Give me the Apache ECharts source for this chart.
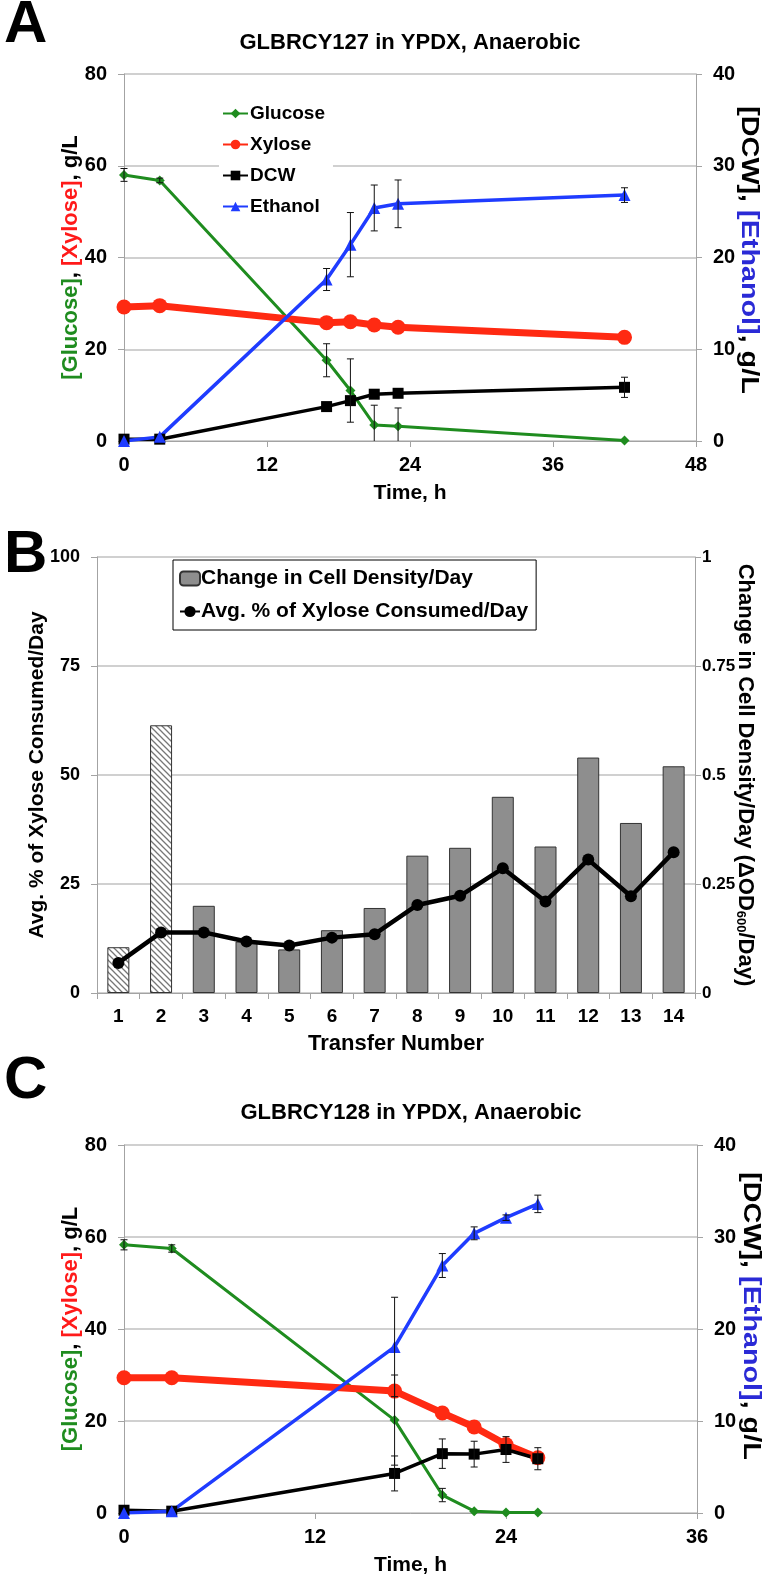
<!DOCTYPE html>
<html><head><meta charset="utf-8">
<script src="https://cdn.jsdelivr.net/npm/echarts@6/dist/echarts.min.js"></script>
<style>html,body{margin:0;padding:0;background:#fff}#c{width:772px;height:1581px}</style>
</head><body><div id="c"></div>
<script>
// ---------- Panel A data (GLBRCY127) ----------
const timeA = [0, 3, 17, 19, 21, 23, 42];
const glucoseA = [58.0, 56.8, 17.6, 11.0, 3.5, 3.2, 0.1];
const glucoseErrA = [1.4, 0.5, 3.6, 6.9, 4.3, 4.0, 0];
const xyloseA = [29.2, 29.5, 25.8, 26.0, 25.3, 24.8, 22.6];
const dcwA = [0.2, 0.2, 3.75, 4.4, 5.1, 5.2, 5.85];
const dcwErrA = [0, 0, 0, 0, 0, 0, 1.1];
const ethanolA = [0, 0.45, 17.6, 21.4, 25.4, 25.85, 26.8];
const ethanolErrA = [0, 0, 1.2, 3.5, 2.5, 2.6, 0.8];
const timeTicksA = [0, 12, 24, 36, 48];

// ---------- Panel B data ----------
const transfers = ['1','2','3','4','5','6','7','8','9','10','11','12','13','14'];
const cellDensity = [0.105, 0.614, 0.20, 0.118, 0.10, 0.144, 0.195, 0.315, 0.333, 0.45, 0.336, 0.54, 0.39, 0.52];
const hatchedTransfers = ['1', '2'];
const xyloseConsumed = [6.9, 13.9, 13.9, 11.8, 10.9, 12.7, 13.5, 20.2, 22.3, 28.6, 21.0, 30.6, 22.2, 32.3];

// ---------- Panel C data (GLBRCY128) ----------
const timeC = [0, 3, 17, 20, 22, 24, 26];
const glucoseC = [58.3, 57.5, 20.2, 3.9, 0.4, 0.1, 0.1];
const glucoseErrC = [1.1, 0.8, 9.8, 1.45, 0, 0, 0];
const xyloseC = [29.4, 29.4, 26.5, 21.75, 18.7, 14.9, 12.0];
const dcwC = [0.3, 0.2, 4.3, 6.45, 6.4, 6.9, 5.9];
const dcwErrC = [0, 0, 1.9, 1.6, 1.4, 1.4, 1.2];
const ethanolC = [0, 0.2, 18.05, 26.9, 30.4, 32.1, 33.6];
const ethanolErrC = [0, 0, 5.4, 1.3, 0.7, 0.3, 0.95];
const timeTicksC = [0, 12, 24, 36];

// ---------- styling ----------
const ARIAL = "'Liberation Sans',Arial,sans-serif";
const GREEN = '#1f8c1f', RED = '#ff2a12', BLUE = '#1f3cff', BLACK = '#000';
const AXC = '#a3a3a3', GRIDC = '#c0c0c0';

function zip(xs, ys) { return xs.map((x, i) => [x, ys[i]]); }

function hatch() {
  const c = document.createElement('canvas');
  c.width = 6; c.height = 6;
  const g = c.getContext('2d');
  g.fillStyle = '#fff'; g.fillRect(0, 0, 6, 6);
  g.strokeStyle = '#777'; g.lineWidth = 1.3;
  g.beginPath();
  g.moveTo(-1, -1); g.lineTo(7, 7);
  g.moveTo(-4, 2); g.lineTo(4, 10);
  g.moveTo(2, -4); g.lineTo(10, 4);
  g.stroke();
  return c;
}
const hatchPattern = { image: hatch(), repeat: 'repeat' };

function errSeries(xi, yi, times, vals, errs) {
  const data = [];
  times.forEach((t, i) => { if (errs[i] > 0) data.push([t, vals[i], errs[i]]); });
  return {
    type: 'custom', xAxisIndex: xi, yAxisIndex: yi, silent: true, z: 5,
    encode: { x: 0, y: 1 }, data,
    renderItem(params, api) {
      const x = api.value(0), y = api.value(1), e = api.value(2);
      const lo = api.coord([x, Math.max(0, y - e)]);
      const hi = api.coord([x, y + e]);
      const w = 3.5, st = { stroke: '#111', lineWidth: 1 };
      const ch = [
        { type: 'line', shape: { x1: lo[0], y1: lo[1], x2: hi[0], y2: hi[1] }, style: st },
        { type: 'line', shape: { x1: hi[0] - w, y1: hi[1], x2: hi[0] + w, y2: hi[1] }, style: st }
      ];
      if (y - e > 0) ch.push({ type: 'line', shape: { x1: lo[0] - w, y1: lo[1], x2: lo[0] + w, y2: lo[1] }, style: st });
      return { type: 'group', children: ch };
    }
  };
}

function lineSeries(name, xi, yi, times, vals, color, width, symbol, size) {
  return {
    name, type: 'line', xAxisIndex: xi, yAxisIndex: yi, data: zip(times, vals),
    symbol, symbolSize: size, showSymbol: true,
    lineStyle: { color, width }, itemStyle: { color, borderWidth: 0 },
    emphasis: { disabled: true }
  };
}

const tickLabel = (margin, size) => ({ color: '#000', fontFamily: ARIAL, fontWeight: 'bold', fontSize: size || 20, margin });
const axLine = { show: true, onZero: false, lineStyle: { color: AXC, width: 1 } };
const axTick = { show: true, length: 6, inside: false, lineStyle: { color: AXC, width: 1 } };
const split = { show: true, lineStyle: { color: GRIDC, width: 1.5 } };
const nameBold = (size) => ({ fontFamily: ARIAL, fontWeight: 'bold', fontSize: size, color: '#000' });

function richStyles(size, key) {
  const base = { fontFamily: ARIAL, fontWeight: 'bold', fontSize: size };
  const c = (v) => ({ ...base, [key]: v });
  return { k: c('#000'), g: c(GREEN), r: c('#ff1a1a'), b: c('#2a2ad6') };
}

function timeXAxis(gi, ticks) {
  return {
    type: 'value', gridIndex: gi, min: ticks[0], max: ticks[ticks.length - 1], interval: ticks[1] - ticks[0],
    axisLine: axLine, axisTick: axTick, splitLine: { show: false }, axisLabel: tickLabel(14),
    name: 'Time, h', nameLocation: 'middle', nameGap: 42, nameMoveOverlap: false,
    nameTextStyle: nameBold(21)
  };
}
function leftConc(gi) {
  return {
    type: 'value', gridIndex: gi, min: 0, max: 80, interval: 20, position: 'left',
    axisLine: axLine, axisTick: axTick, splitLine: split, axisLabel: tickLabel(17),
    name: '{g|[Glucose]}{k|, }{r|[Xylose]}{k|, g/L}', nameLocation: 'middle', nameGap: 42, nameRotate: 90,
    nameMoveOverlap: false,
    nameTextStyle: { fontFamily: ARIAL, fontWeight: 'bold', fontSize: 22, color: '#000', rich: richStyles(22, 'color') }
  };
}
function rightConc(gi) {
  return {
    type: 'value', gridIndex: gi, min: 0, max: 40, interval: 10, position: 'right',
    axisLine: axLine, axisTick: axTick, splitLine: { show: false }, axisLabel: tickLabel(17)
  };
}
// right-hand titles of A and C are drawn as slightly stretched text, as in the reference
function rightTitle(x, y) {
  return {
    type: 'text', x, y, rotation: -Math.PI / 2, scaleX: 1.25, scaleY: 1,
    style: {
      text: '{k|[DCW], }{b|[Ethanol]}{k|, g/L}', rich: richStyles(23, 'fill'),
      fontFamily: ARIAL, fontWeight: 'bold', fontSize: 23, fill: '#000',
      align: 'center', verticalAlign: 'middle'
    }
  };
}

const option = {
  animation: false,
  backgroundColor: '#fff',
  grid: [
    { left: 124, top: 74, width: 572, height: 367 },
    { left: 97, top: 557, width: 598, height: 436 },
    { left: 124, top: 1145, width: 573, height: 368 }
  ],
  xAxis: [
    timeXAxis(0, timeTicksA),
    {
      type: 'category', gridIndex: 1, data: transfers, boundaryGap: true,
      axisLine: axLine, axisTick: { ...axTick, alignWithLabel: false }, axisLabel: tickLabel(14, 19),
      name: 'Transfer Number', nameLocation: 'middle', nameGap: 40, nameMoveOverlap: false,
      nameTextStyle: nameBold(22)
    },
    timeXAxis(2, timeTicksC)
  ],
  yAxis: [
    leftConc(0),
    rightConc(0),
    {
      type: 'value', gridIndex: 1, min: 0, max: 100, interval: 25, position: 'left',
      axisLine: axLine, axisTick: axTick, splitLine: split, axisLabel: tickLabel(17, 18),
      name: 'Avg. % of Xylose Consumed/Day', nameLocation: 'middle', nameGap: 49, nameRotate: 90,
      nameMoveOverlap: false, nameTextStyle: nameBold(21)
    },
    {
      type: 'value', gridIndex: 1, min: 0, max: 1, interval: 0.25, position: 'right',
      axisLine: axLine, axisTick: axTick, splitLine: { show: false }, axisLabel: tickLabel(7, 17),
      name: '{k|Change in Cell Density/Day (ΔOD}{s|600}{k|/Day)}', nameLocation: 'middle', nameGap: 39, nameRotate: -90,
      nameMoveOverlap: false,
      nameTextStyle: {
        fontFamily: ARIAL, fontWeight: 'bold', fontSize: 22, color: '#000',
        rich: {
          k: { fontFamily: ARIAL, fontWeight: 'bold', fontSize: 22, color: '#000' },
          s: { fontFamily: ARIAL, fontWeight: 'bold', fontSize: 13, color: '#000', padding: [10, 0, 0, 0] }
        }
      }
    },
    leftConc(2),
    rightConc(2)
  ],
  legend: [
    {
      data: ['Glucose', 'Xylose', 'DCW', 'Ethanol'], orient: 'vertical', left: 219, top: 100,
      backgroundColor: '#fff', padding: [4, 8, 4, 3], itemGap: 12, itemWidth: 25, itemHeight: 12,
      selectedMode: false, textStyle: { fontFamily: ARIAL, fontWeight: 'bold', fontSize: 19, color: '#000', padding: [0, 0, 0, -3] }
    },
    {
      data: ['Change in Cell Density/Day', 'Avg. % of Xylose Consumed/Day'], orient: 'vertical', left: 173, top: 560,
      backgroundColor: '#fff', borderColor: '#000', borderWidth: 1, padding: [8, 8, 8, 6], itemGap: 12,
      itemWidth: 20, itemHeight: 14, selectedMode: false,
      textStyle: { fontFamily: ARIAL, fontWeight: 'bold', fontSize: 21, color: '#000', padding: [0, 0, 0, -4] }
    }
  ],
  graphic: [
    { type: 'text', x: 4, y: 25, style: { text: 'A', fontFamily: ARIAL, fontWeight: 'bold', fontSize: 60, fill: '#000', align: 'left', verticalAlign: 'middle' } },
    { type: 'text', x: 4, y: 555, style: { text: 'B', fontFamily: ARIAL, fontWeight: 'bold', fontSize: 60, fill: '#000', align: 'left', verticalAlign: 'middle' } },
    { type: 'text', x: 4, y: 1081, style: { text: 'C', fontFamily: ARIAL, fontWeight: 'bold', fontSize: 60, fill: '#000', align: 'left', verticalAlign: 'middle' } },
    { type: 'text', x: 410, y: 43, style: { text: 'GLBRCY127 in YPDX, Anaerobic', fontFamily: ARIAL, fontWeight: 'bold', fontSize: 22, fill: '#000', align: 'center', verticalAlign: 'middle' } },
    { type: 'text', x: 411, y: 1113, style: { text: 'GLBRCY128 in YPDX, Anaerobic', fontFamily: ARIAL, fontWeight: 'bold', fontSize: 22, fill: '#000', align: 'center', verticalAlign: 'middle' } },
    rightTitle(748, 250),
    rightTitle(750, 1316)
  ],
  series: [
    // Panel A
    lineSeries('Glucose', 0, 0, timeA, glucoseA, GREEN, 3, 'diamond', 10),
    lineSeries('Xylose', 0, 0, timeA, xyloseA, RED, 7, 'circle', 15),
    lineSeries('DCW', 0, 1, timeA, dcwA, BLACK, 3.5, 'rect', 11),
    lineSeries('Ethanol', 0, 1, timeA, ethanolA, BLUE, 3.5, 'triangle', 12),
    errSeries(0, 0, timeA, glucoseA, glucoseErrA),
    errSeries(0, 1, timeA, dcwA, dcwErrA),
    errSeries(0, 1, timeA, ethanolA, ethanolErrA),
    // Panel B
    {
      name: 'Change in Cell Density/Day', type: 'bar', xAxisIndex: 1, yAxisIndex: 3, barWidth: 22,
      data: cellDensity.map((v, i) => hatchedTransfers.includes(transfers[i])
        ? { value: v, itemStyle: { color: hatchPattern } } : v),
      itemStyle: { color: '#8e8e8e', borderColor: '#333', borderWidth: 1 },
      emphasis: { disabled: true }
    },
    {
      name: 'Avg. % of Xylose Consumed/Day', type: 'line', xAxisIndex: 1, yAxisIndex: 2, data: xyloseConsumed,
      symbol: 'circle', symbolSize: 12, lineStyle: { color: '#000', width: 4.5 }, itemStyle: { color: '#000' },
      emphasis: { disabled: true }, z: 4
    },
    // Panel C
    lineSeries('Glucose', 2, 4, timeC, glucoseC, GREEN, 3, 'diamond', 10),
    lineSeries('Xylose', 2, 4, timeC, xyloseC, RED, 7, 'circle', 15),
    lineSeries('DCW', 2, 5, timeC, dcwC, BLACK, 3.5, 'rect', 11),
    lineSeries('Ethanol', 2, 5, timeC, ethanolC, BLUE, 3.5, 'triangle', 12),
    errSeries(2, 4, timeC, glucoseC, glucoseErrC),
    errSeries(2, 5, timeC, dcwC, dcwErrC),
    errSeries(2, 5, timeC, ethanolC, ethanolErrC)
  ]
};

const chart = echarts.init(document.getElementById('c'), null, { renderer: 'canvas', width: 772, height: 1581 });
chart.setOption(option);
</script>
</body></html>
